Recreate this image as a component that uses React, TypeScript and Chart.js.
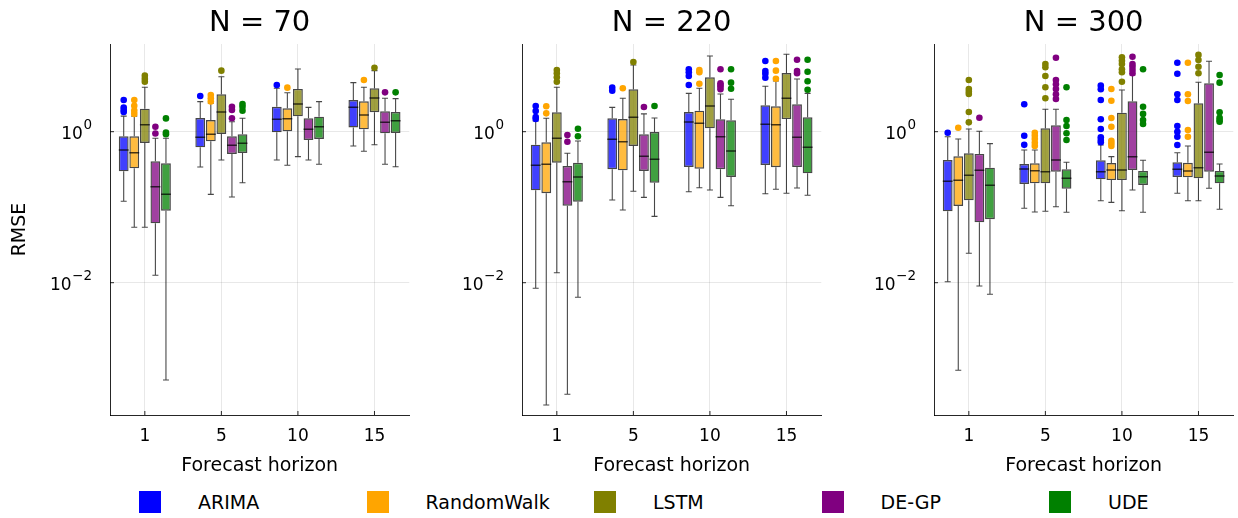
import React, { useEffect, useRef } from 'react';
import { Chart, registerables } from 'chart.js';

Chart.register(...registerables);

const FONT = '"DejaVu Sans", "Liberation Sans", sans-serif';

const HORIZONS = ['1', '5', '10', '15'];
const MODELS = ['ARIMA', 'RandomWalk', 'LSTM', 'DE-GP', 'UDE'];
const COLORS = ['#0000ff', '#ffa500', '#808000', '#800080', '#008000'];
const FILL_COLORS = [
  'rgba(0,0,255,0.75)',
  'rgba(255,165,0,0.75)',
  'rgba(128,128,0,0.75)',
  'rgba(128,0,128,0.75)',
  'rgba(0,128,0,0.75)',
];
const PANEL_TITLES = ['N = 70', 'N = 220', 'N = 300'];
const Y_TICKS = [0.01, 1];
const Y_MIN = 1.77e-4;
const Y_MAX = 14.5;

// rows = models (ARIMA, RandomWalk, LSTM, DE-GP, UDE), cols = horizons (1, 5, 10, 15)
// ---------- N = 70 ----------
const N70_LOW = [
  [0.12, 0.341, 0.422, 0.647],
  [0.0542, 0.148, 0.359, 0.55],
  [0.0542, 0.422, 0.467, 0.673],
  [0.01253, 0.1365, 0.422, 0.37],
  [0.000514, 0.211, 0.37, 0.344],
];
const N70_Q1 = [
  [0.299, 0.621, 0.982, 1.14],
  [0.327, 0.746, 1.01, 1.076],
  [0.708, 0.933, 1.6, 1.81],
  [0.0612, 0.507, 0.776, 0.952],
  [0.0899, 0.522, 0.8, 0.961],
];
const N70_MED = [
  [0.573, 0.843, 1.46, 2.1],
  [0.527, 0.924, 1.487, 1.66],
  [1.238, 1.82, 2.33, 2.79],
  [0.187, 0.66, 1.076, 1.33],
  [0.148, 0.702, 1.165, 1.4],
];
const N70_Q3 = [
  [0.869, 1.518, 2.14, 2.63],
  [0.869, 1.428, 2.04, 2.53],
  [2.02, 3.13, 3.68, 3.76],
  [0.405, 0.869, 1.505, 1.86],
  [0.381, 0.924, 1.58, 1.82],
];
const N70_HIGH = [
  [1.61, 2.5, 3.76, 4.46],
  [1.61, 2.38, 3.28, 3.87],
  [3.87, 5.35, 6.77, 6.43],
  [0.818, 1.357, 2.1, 2.77],
  [0.818, 1.505, 2.5, 2.74],
];
const N70_OUT = [
  [[1.82, 1.94, 2.09, 2.63], [2.97], [4.15], []],
  [[1.72, 1.9, 2.21, 2.63], [2.51, 2.77, 3.06], [3.83], [4.84]],
  [[4.59, 5.0, 5.52], [6.43], [], [7.04]],
  [[0.947, 1.165], [1.505, 1.94, 2.14], [], [3.32]],
  [[0.924, 0.976, 1.5], [1.9, 2.14, 2.33], [], [3.32]],
];

// ---------- N = 220 ----------
const N220_LOW = [
  [0.00843, 0.1245, 0.1603, 0.151],
  [0.00024, 0.0918, 0.181, 0.1726],
  [0.01356, 0.1624, 0.169, 0.153],
  [0.000333, 0.135, 0.135, 0.18],
  [0.00641, 0.0757, 0.1047, 0.144],
];
const N220_Q1 = [
  [0.1675, 0.318, 0.341, 0.362],
  [0.153, 0.308, 0.324, 0.338],
  [0.388, 0.647, 1.109, 1.47],
  [0.1047, 0.302, 0.318, 0.341],
  [0.118, 0.211, 0.251, 0.281],
];
const N220_MED = [
  [0.359, 0.793, 1.344, 1.253],
  [0.37, 0.737, 1.292, 1.238],
  [0.818, 1.55, 2.19, 2.77],
  [0.218, 0.472, 0.859, 0.843],
  [0.251, 0.431, 0.555, 0.621],
];
const N220_Q3 = [
  [0.673, 1.505, 1.82, 2.24],
  [0.724, 1.47, 1.9, 2.17],
  [1.81, 3.64, 5.25, 5.99],
  [0.351, 0.924, 1.46, 2.31],
  [0.388, 0.991, 1.416, 1.55],
];
const N220_HIGH = [
  [1.386, 2.1, 3.22, 3.99],
  [1.505, 2.77, 3.76, 4.69],
  [3.87, 7.64, 10.07, 10.6],
  [0.518, 1.72, 3.16, 4.99],
  [0.753, 1.518, 2.69, 3.22],
];
const N220_OUT = [
  [[1.47, 1.56, 1.88, 2.19], [3.49, 3.83], [4.15, 5.47, 6.12, 6.7], [5.19, 5.86, 6.37, 8.64]],
  [[1.75, 2.17], [3.76], [4.32, 6.12, 6.56], [5.03, 6.43, 8.64]],
  [[4.59, 5.25, 5.94, 6.56], [8.38], [], []],
  [[0.737, 0.904], [2.12], [3.64, 3.94, 4.15, 4.37, 6.7], [5.94, 6.37, 8.99]],
  [[0.869, 1.096], [2.19], [3.71, 4.46, 6.7], [3.6, 4.65, 6.23, 8.99]],
];

// ---------- N = 300 ----------
const N300_LOW = [
  [0.0103, 0.0967, 0.122, 0.153],
  [0.000692, 0.0864, 0.116, 0.122],
  [0.0245, 0.0883, 0.0899, 0.122],
  [0.00904, 0.1016, 0.169, 0.178],
  [0.00702, 0.0856, 0.0856, 0.0938],
];
const N300_Q1 = [
  [0.0883, 0.203, 0.234, 0.251],
  [0.1037, 0.207, 0.229, 0.249],
  [0.1234, 0.207, 0.229, 0.241],
  [0.0631, 0.295, 0.311, 0.295],
  [0.0692, 0.176, 0.197, 0.207],
];
const N300_MED = [
  [0.2205, 0.321, 0.295, 0.318],
  [0.227, 0.304, 0.311, 0.302],
  [0.265, 0.295, 0.311, 0.334],
  [0.308, 0.422, 0.467, 0.533],
  [0.195, 0.241, 0.254, 0.259],
];
const N300_Q3 = [
  [0.422, 0.373, 0.418, 0.393],
  [0.472, 0.381, 0.385, 0.388],
  [0.518, 1.109, 1.785, 2.38],
  [0.507, 1.215, 2.53, 4.37],
  [0.334, 0.318, 0.302, 0.302],
];
const N300_HIGH = [
  [0.859, 0.572, 0.667, 0.527],
  [0.8, 0.573, 0.467, 0.647],
  [1.086, 1.98, 3.57, 4.51],
  [1.012, 1.98, 5.63, 8.56],
  [0.694, 0.393, 0.418, 0.373],
];
const N300_OUT = [
  [[0.97], [0.67, 0.885, 2.31], [0.724, 0.776, 0.843, 1.086, 1.46, 2.63, 3.64, 4.07], [0.667, 0.859, 1.0, 1.19, 2.63, 3.13, 5.86, 8.2]],
  [[1.13], [0.646, 0.715, 0.8, 0.885, 0.97], [0.647, 0.702, 0.76, 1.165, 1.52, 2.57, 3.68], [0.859, 1.053, 2.55, 3.13, 8.2]],
  [[1.33, 1.82, 3.16, 3.39, 3.68, 4.84], [2.77, 3.87, 5.47, 7.13, 7.88], [4.59, 6.12, 6.7, 7.88, 8.72, 9.67], [5.94, 7.26, 8.9, 10.4]],
  [[1.53], [2.71, 3.13, 3.68, 4.24, 4.84, 9.55], [5.94, 6.56, 7.26, 7.88, 9.85], []],
  [[], [0.776, 0.952, 1.19, 1.43, 3.87], [1.265, 1.43, 1.72, 2.14, 6.7], [1.357, 1.43, 1.53, 1.81, 4.46, 5.63]],
];

type PanelData = {
  title: string;
  low: number[][];
  q1: number[][];
  med: number[][];
  q3: number[][];
  high: number[][];
  out: number[][][];
  showYTitle: boolean;
};

const PANELS: PanelData[] = [
  { title: PANEL_TITLES[0], low: N70_LOW, q1: N70_Q1, med: N70_MED, q3: N70_Q3, high: N70_HIGH, out: N70_OUT, showYTitle: true },
  { title: PANEL_TITLES[1], low: N220_LOW, q1: N220_Q1, med: N220_MED, q3: N220_Q3, high: N220_HIGH, out: N220_OUT, showYTitle: false },
  { title: PANEL_TITLES[2], low: N300_LOW, q1: N300_Q1, med: N300_MED, q3: N300_Q3, high: N300_HIGH, out: N300_OUT, showYTitle: false },
];

const LINE = 'rgba(0,0,0,0.72)';
const AXIS = 'rgba(0,0,0,0.85)';
const GRID = 'rgba(0,0,0,0.09)';

function makeBoxPlugin(p: PanelData) {
  return {
    id: 'boxExtras',
    beforeDatasetsDraw(chart: any) {
      const { ctx, chartArea } = chart;
      const ys = chart.scales.y;
      ctx.save();
      ctx.beginPath();
      ctx.rect(chartArea.left, chartArea.top, chartArea.right - chartArea.left, chartArea.bottom - chartArea.top);
      ctx.clip();
      ctx.strokeStyle = LINE;
      ctx.lineWidth = 1.1;
      MODELS.forEach((_, m) => {
        const meta = chart.getDatasetMeta(m);
        meta.data.forEach((el: any, h: number) => {
          const x = el.x;
          const pHi = ys.getPixelForValue(p.high[m][h]);
          const pLo = ys.getPixelForValue(p.low[m][h]);
          const pQ1 = ys.getPixelForValue(p.q1[m][h]);
          const pQ3 = ys.getPixelForValue(p.q3[m][h]);
          ctx.beginPath();
          ctx.moveTo(x, pQ3);
          ctx.lineTo(x, pHi);
          ctx.moveTo(x, pQ1);
          ctx.lineTo(x, pLo);
          ctx.moveTo(x - 3, pHi);
          ctx.lineTo(x + 3, pHi);
          ctx.moveTo(x - 3, pLo);
          ctx.lineTo(x + 3, pLo);
          ctx.stroke();
        });
      });
      ctx.restore();
    },
    afterDatasetsDraw(chart: any) {
      const { ctx, chartArea } = chart;
      const ys = chart.scales.y;
      const xs = chart.scales.x;
      ctx.save();
      ctx.beginPath();
      ctx.rect(chartArea.left, chartArea.top, chartArea.right - chartArea.left, chartArea.bottom - chartArea.top);
      ctx.clip();
      ctx.strokeStyle = LINE;
      ctx.lineWidth = 1.5;
      MODELS.forEach((_, m) => {
        const meta = chart.getDatasetMeta(m);
        meta.data.forEach((el: any, h: number) => {
          const py = ys.getPixelForValue(p.med[m][h]);
          ctx.beginPath();
          ctx.moveTo(el.x - el.width / 2, py);
          ctx.lineTo(el.x + el.width / 2, py);
          ctx.stroke();
        });
      });
      MODELS.forEach((_, m) => {
        const meta = chart.getDatasetMeta(m);
        ctx.fillStyle = COLORS[m];
        meta.data.forEach((el: any, h: number) => {
          p.out[m][h].forEach((v) => {
            const py = ys.getPixelForValue(v);
            ctx.beginPath();
            ctx.arc(el.x, py, 3.3, 0, Math.PI * 2);
            ctx.fill();
          });
        });
      });
      ctx.restore();

      ctx.save();
      ctx.strokeStyle = AXIS;
      ctx.lineWidth = 1;
      xs.ticks.forEach((t: any) => {
        const px = xs.getPixelForValue(t.value);
        ctx.beginPath();
        ctx.moveTo(px, chartArea.bottom);
        ctx.lineTo(px, chartArea.bottom - 4);
        ctx.stroke();
      });
      ys.ticks.forEach((t: any) => {
        const py = ys.getPixelForValue(t.value);
        ctx.beginPath();
        ctx.moveTo(chartArea.left, py);
        ctx.lineTo(chartArea.left + 4, py);
        ctx.stroke();
      });
      ctx.restore();

      ctx.save();
      ctx.fillStyle = '#000';
      ctx.textAlign = 'right';
      ctx.textBaseline = 'middle';
      ys.ticks.forEach((t: any) => {
        const py = ys.getPixelForValue(t.value);
        const e = Math.round(Math.log10(t.value));
        const expStr = e < 0 ? '\u2212' + String(-e) : String(e);
        const right = chartArea.left - 18;
        ctx.font = `13.5px ${FONT}`;
        const ew = ctx.measureText(expStr).width;
        ctx.fillText(expStr, right, py - 6.5);
        ctx.font = `17px ${FONT}`;
        ctx.fillText('10', right - ew - 0.5, py + 3.3);
      });
      ctx.restore();
    },
  };
}

function BoxPanel({ panel, index }: { panel: PanelData; index: number }) {
  const ref = useRef<HTMLCanvasElement>(null);
  useEffect(() => {
    const canvas = ref.current;
    if (!canvas) return;
    const chart = new Chart(canvas, {
      type: 'bar',
      data: {
        datasets: MODELS.map((name, m) => ({
          label: name,
          data: HORIZONS.map((_, h) => ({ x: h, y: [panel.q1[m][h], panel.q3[m][h]] })),
          backgroundColor: FILL_COLORS[m],
          borderColor: LINE,
          borderWidth: 1.4,
          borderSkipped: false,
          categoryPercentage: 0.69,
          barPercentage: 0.93,
          grouped: true,
        })) as any,
      },
      options: {
        responsive: false,
        animation: false,
        events: [],
        layout: { padding: { left: 0, right: 2.7, top: 0, bottom: 0 } },
        plugins: {
          legend: { display: false },
          tooltip: { enabled: false },
          title: {
            display: true,
            text: panel.title,
            fullSize: false,
            color: '#000',
            font: { family: FONT, size: 29, weight: 'normal', lineHeight: 1.2 },
            padding: { top: 5.6, bottom: 3.6 },
          },
        },
        scales: {
          x: {
            type: 'linear',
            min: -0.455,
            max: 3.455,
            offset: false,
            grid: { offset: false, color: GRID, lineWidth: 1, drawTicks: false },
            border: { display: true, color: AXIS, width: 1 },
            ticks: {
              color: '#000',
              font: { family: FONT, size: 17 },
              padding: 11.5,
              maxRotation: 0,
              autoSkip: false,
              callback: (v: any) => HORIZONS[Math.round(Number(v))] ?? '',
            },
            afterBuildTicks: (s: any) => {
              s.ticks = HORIZONS.map((_, i) => ({ value: i }));
            },
            afterFit: (s: any) => {
              s.height = 65;
            },
            title: {
              display: true,
              text: 'Forecast horizon',
              color: '#000',
              font: { family: FONT, size: 19 },
              padding: { top: 0, bottom: 2.3 },
            },
          },
          y: {
            type: 'logarithmic',
            min: Y_MIN,
            max: Y_MAX,
            bounds: 'data',
            grid: { color: GRID, lineWidth: 1, drawTicks: false },
            border: { display: true, color: AXIS, width: 1 },
            ticks: { display: false },
            afterBuildTicks: (s: any) => {
              s.ticks = Y_TICKS.map((v) => ({ value: v }));
            },
            afterFit: (s: any) => {
              s.width = 110;
            },
            title: {
              display: panel.showYTitle,
              text: 'RMSE',
              color: '#000',
              font: { family: FONT, size: 19 },
              padding: { top: 8.6, bottom: 0 },
            },
          },
        },
      } as any,
      plugins: [makeBoxPlugin(panel)],
    });
    return () => chart.destroy();
  }, [panel]);
  return (
    <canvas
      ref={ref}
      width={412}
      height={480}
      style={{ position: 'absolute', left: index * 412, top: 0, width: 412, height: 480, display: 'block' }}
    />
  );
}

export default function App() {
  return (
    <div
      style={{
        position: 'absolute',
        left: 0,
        top: 0,
        width: 1238,
        height: 518,
        background: '#fff',
        fontFamily: FONT,
        overflow: 'hidden',
      }}
    >
      {PANELS.map((p, i) => (
        <BoxPanel key={p.title} panel={p} index={i} />
      ))}
      {MODELS.map((name, m) => (
        <div
          key={name}
          style={{
            position: 'absolute',
            left: 139 + m * 227.5,
            top: 491,
            height: 22,
            display: 'flex',
            alignItems: 'center',
          }}
        >
          <div style={{ width: 22, height: 22, background: COLORS[m] }} />
          <span style={{ marginLeft: 37, fontSize: 19, lineHeight: '22px', color: '#000', whiteSpace: 'nowrap' }}>
            {name}
          </span>
        </div>
      ))}
    </div>
  );
}
